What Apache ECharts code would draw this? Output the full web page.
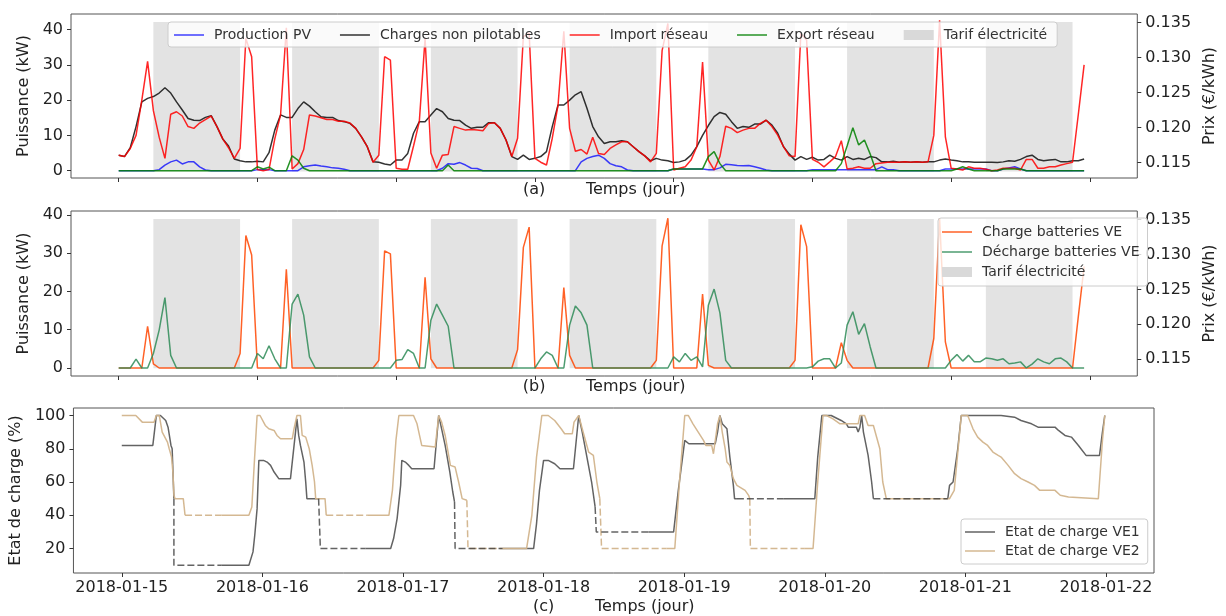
<!DOCTYPE html>
<html><head><meta charset="utf-8">
<script src="https://cdn.jsdelivr.net/npm/echarts@6/dist/echarts.min.js"></script>
<style>html,body{margin:0;padding:0;background:#fff}#chart{width:1226px;height:616px}</style>
</head><body><div id="chart"></div>
<script>
// ---------- DATA (hourly, starting 2018-01-15 00:00) ----------
const dayLabels = ['2018-01-15','2018-01-16','2018-01-17','2018-01-18','2018-01-19','2018-01-20','2018-01-21','2018-01-22'];
const dayTicks = [0,24,48,72,96,120,144,168];
const powerTicks = [0,10,20,30,40];
const priceTicks = [0.115,0.120,0.125,0.130,0.135];
const socTicks = [20,40,60,80,100];

const productionPV = [
 0,0,0,0,0,0,0,0.3,1.6,2.5,3,1.9,2.5,2.5,1.1,0.2,0,0,0,0,0,0,0,0,
 0.3,0.3,0.3,0,0,0,0,0,1.1,1.4,1.6,1.3,1.1,0.8,0.7,0.4,0,0,0,0,0,0,0,0,
 0,0,0,0,0,0,0,0,0.7,2,1.8,2.3,1.6,0.7,0.6,0,0,0,0,0,0,0,0,0,
 0,0,0,0,0,0,0,0,2.5,3.5,4,4.4,3.5,2,1.4,1.1,0.2,0,0,0,0,0,0,0,
 0.5,0.5,0.5,0.5,0.5,0.5,0.3,0.3,0.8,1.8,1.7,1.5,1.4,1.5,1.1,0.7,0.2,0,0,0,0,0,0,0,
 0.3,0.3,0.3,0.3,0.3,0.3,0.3,0.3,0.3,0.3,0.3,0.3,1.1,0.3,0.3,0,0,0,0,0,0,0,0,0.5,
 0.5,0.5,0.5,0.5,0.5,0.5,0.5,0,0,0.5,0.8,1.1,0.5,0,0,0,0,0,0,0,0,0,0,0
];
const chargesNonPilotables = [
 4.4,4,6.5,12.5,19.5,20.5,21,22,23.5,22,19.5,17.2,14.8,14.3,14.2,15.1,15.6,12.5,9,7,3.3,2.8,2.5,2.5,
 2.7,2.5,5.1,11.5,15.8,15.1,15.1,17.6,19.5,18.3,16.7,15.3,15.1,15.1,14.2,13.9,13.4,12,9.6,6.8,2.5,2.4,1.9,1.6,
 3,3,4.9,10.6,13.9,13.9,15.8,17.6,16.7,14.8,14.3,14.2,12.9,12,12.3,12.3,13.6,13.6,12,8.7,4,3.2,4.4,3.2,
 3.5,4,5.4,12.5,18.6,18.6,20,21.5,22.4,17.7,12.5,9.6,7.7,8.2,8.2,8.5,8.2,6.8,5.4,4.2,2.8,3.5,3,2.8,
 2.3,2.5,3,4.4,6.8,10,12.8,15.3,16.5,16,13.9,12,12.5,12.3,13.2,13.2,14.3,12.9,10.6,6.8,4.7,3,4,3.2,
 3.8,3,3.2,4.4,3.5,3,4,3.2,3.5,3.2,4,3.7,2.5,2.5,2.7,2.4,2.5,2.4,2.5,2.4,2.5,2.5,3,3.3,
 3,2.8,2.5,2.5,2.4,2.4,2.4,2.4,2.3,2.5,2.8,2.7,3.2,4,4.4,3.2,2.8,3,3.2,2.5,2.5,2.8,2.8,3.3
];
const importReseau = [
 4.4,4,6.3,10,20,31,17,9.5,3.5,16,16.7,15.5,12.5,12,13.5,14.5,15.5,12.5,9,6.5,3.5,6.3,37.5,32.3,
 0.3,0,0.3,9,15.8,40.5,0.5,2,6,15.8,15.5,15,14.5,14.5,14,14,13.5,12,9.6,6.8,2.4,4.4,32.3,31.3,
 0.7,0.4,0.4,7,13.9,37.5,5,0.7,4.4,4.6,12.5,12,11.5,11.7,11.5,11.3,13.4,13.6,12,8.7,4,9.2,38,39,
 3.5,2.4,1.6,9.2,18.6,39.5,12,5.5,6,4.7,9.5,4.9,4.6,6.3,7.3,8.2,8.2,6.8,5.4,4.2,2.5,4.9,34,41.7,
 0.2,0.7,1.1,3,6.8,30.8,3,0.2,4,12.6,12,10.8,11.5,12,12,13.4,14.3,12.5,10.1,6.8,4.2,4,38.9,37,
 3.2,2.4,1.1,2.5,4,8.5,0.5,0.7,1.1,0.7,0.7,2,2.2,2.4,2.4,2.4,2.5,2.4,2.5,2.4,2.5,10,42.6,9.6,
 0.7,0.5,0.2,1.1,0.7,0.7,0.4,0,0.2,0.7,0.7,0.7,0.2,3.2,3.2,0.7,0.7,1.1,1.1,1.6,2,2.4,16,30
];
const exportReseau = [
 0,0,0,0,0,0,0,0,0,0,0,0,0,0,0,0,0,0,0,0,0,0,0,0,
 1.1,0.5,1,0,0,0,4.2,3,0.7,0,0,0,0,0,0,0,0,0,0,0,0,0,0,0,
 0,0,0,0,0,0,0,0,0,1.6,0,0,0,0,0,0,0,0,0,0,0,0,0,0,
 0,0,0,0,0,0,0,0,0,0,0,0,0,0,0,0,0,0,0,0,0,0,0,0,
 0.5,0.5,0.5,0.5,0.5,0.5,4,5.4,2,0,0,0,0,0,0,0,0,0,0,0,0,0,0,0,
 0,0,0,0,0,2,7,12.2,7.3,8.7,4.7,0,0,0,0,0,0,0,0,0,0,0,0,0,
 0,0.5,1.1,0.5,0,0,0,0,0,0.5,0.5,0.5,0.5,0,0,0,0,0,0,0,0,0,0,0
];
const chargeVE = [
 0,0,0,0,0,10.9,1.1,0,0,0,0,0,0,0,0,0,0,0,0,0,0,3.8,34.6,29.5,
 0,0,0,0,0,25.8,0,0,0,0,0,0,0,0,0,0,0,0,0,0,0,2,30.6,29.8,
 0,0,0,0,0,23.7,2.4,0,0,0,0,0,0,0,0,0,0,0,0,0,0,4.8,31.5,36.8,
 0,0,0,0,0,21,3.3,0,0,0,0,0,0,0,0,0,0,0,0,0,0,2,31.9,39.1,
 0,0,0,0,0,19.3,0.7,0,0,0,0,0,0,0,0,0,0,0,0,0,0,2,37.4,31.7,
 0,0,0,0,0,6.6,2,0,0,0,0,0,0,0,0,0,0,0,0,0,0,7.7,39.1,6.8,
 0,0,0,0,0,0,0,0,0,0,0,0,0,0,0,0,0,0,0,0,0,0,13.5,26.5
];
const dechargeVE = [
 0,0,0,2.3,0,0,3.8,9.9,18.4,3.3,0,0,0,0,0,0,0,0,0,0,0,0,0,0,
 3.8,2.4,5.8,2.4,0,0,16.7,19.3,13.8,2.9,0,0,0,0,0,0,0,0,0,0,0,0,0,0,
 2,2.2,4.8,3.8,0,0,12.5,16.7,13.8,10.9,0,0,0,0,0,0,0,0,0,0,0,0,0,0,
 0,2.4,4.2,3.3,0,0,11.2,16.2,14.4,11.2,0,0,0,0,0,0,0,0,0,0,0,0,0,0,
 2.9,1.6,3.8,2,2.9,0.3,16.4,20.6,14.4,2,0,0,0,0,0,0,0,0,0,0,0,0,0,0,
 0.3,1.8,2.4,2.4,0,1.3,11.2,14.7,8.8,11.6,5.5,0,0,0,0,0,0,0,0,0,0,0,0,0,
 2,3.5,1.8,3.3,1.6,1.6,2.6,2.4,2,2.4,1.1,1.3,1.6,0,1,2.4,1.6,1.1,2.4,2.6,1.6,0,0,0
];
const priceLow = 0.1137;
const tarif = [
 0.1137,0.1137,0.1137,0.1137,0.1137,0.1137,0.1351,0.1351,0.1351,0.1351,0.1351,0.1351,0.1351,0.1351,0.1351,0.1351,0.1351,0.1351,0.1351,0.1351,0.1351,0.1137,0.1137,0.1137,
 0.1137,0.1137,0.1137,0.1137,0.1137,0.1137,0.1351,0.1351,0.1351,0.1351,0.1351,0.1351,0.1351,0.1351,0.1351,0.1351,0.1351,0.1351,0.1351,0.1351,0.1351,0.1137,0.1137,0.1137,
 0.1137,0.1137,0.1137,0.1137,0.1137,0.1137,0.1351,0.1351,0.1351,0.1351,0.1351,0.1351,0.1351,0.1351,0.1351,0.1351,0.1351,0.1351,0.1351,0.1351,0.1351,0.1137,0.1137,0.1137,
 0.1137,0.1137,0.1137,0.1137,0.1137,0.1137,0.1351,0.1351,0.1351,0.1351,0.1351,0.1351,0.1351,0.1351,0.1351,0.1351,0.1351,0.1351,0.1351,0.1351,0.1351,0.1137,0.1137,0.1137,
 0.1137,0.1137,0.1137,0.1137,0.1137,0.1137,0.1351,0.1351,0.1351,0.1351,0.1351,0.1351,0.1351,0.1351,0.1351,0.1351,0.1351,0.1351,0.1351,0.1351,0.1351,0.1137,0.1137,0.1137,
 0.1137,0.1137,0.1137,0.1137,0.1137,0.1137,0.1351,0.1351,0.1351,0.1351,0.1351,0.1351,0.1351,0.1351,0.1351,0.1351,0.1351,0.1351,0.1351,0.1351,0.1351,0.1137,0.1137,0.1137,
 0.1137,0.1137,0.1137,0.1137,0.1137,0.1137,0.1351,0.1351,0.1351,0.1351,0.1351,0.1351,0.1351,0.1351,0.1351,0.1351,0.1351,0.1351,0.1351,0.1351,0.1351,0.1137,0.1137,0.1137
];
// State of charge: [hour, %] breakpoints; solid = connected, dashed = away
const socVE1Solid = [
 [[0,82],[5.3,82],[5.9,100],[6.6,100],[7.5,97],[7.9,93],[8.4,82],[8.6,80],[8.9,50]],
 [[17,10],[21.7,10],[22.4,18],[22.7,28],[23.1,44],[23.4,73],[24.2,73],[24.8,72],[25.4,70],[26,66],[26.8,62],[28.8,62],[29.9,98],[30.2,88],[30.5,82],[31.1,72],[31.4,60],[31.6,50],[33.6,50]],
 [[41.6,20],[45.9,20],[46.4,26],[47,38],[47.6,58],[47.8,73],[48.4,72],[49,70],[49.5,68],[53.3,68],[54.1,100],[54.6,92],[55.2,82],[56,66],[56.5,54],[56.8,48]],
 [[65,20],[70.3,20],[70.8,35],[71.3,55],[72,73],[72.8,73],[73.9,71],[74.8,68],[77.1,68],[78,100],[78.6,90],[79.4,75],[80.2,60],[80.8,45]],
 [[89.9,30],[94.2,30],[95,55],[96.1,85],[96.8,83],[101.3,83],[101.7,90],[102.1,100],[102.5,95],[103.3,92],[103.8,75],[104.4,58],[104.6,50],[105,50]],
 [[113,50],[118.3,50],[118.8,75],[119.5,100],[121.1,100],[122.8,97],[123.7,95],[124,93],[125.4,93],[125.7,90],[126,93],[126.3,100],[126.6,90],[127.4,76],[128,60],[128.3,50]],
 [[141,50],[141.3,58],[141.9,60],[142.7,80],[143.3,100],[150.1,100],[152.4,99],[153.5,97],[155.3,95],[156.4,93],[159.3,93],[159.9,91],[161,88],[162.1,87],[163.3,82],[164.6,76],[166.9,76],[167.4,90],[167.8,100]]
];
const socVE1Away = [
 [[8.9,50],[8.9,10],[17,10]],
 [[33.6,50],[33.9,20],[41.6,20]],
 [[56.8,48],[56.9,20],[65,20]],
 [[80.8,45],[81,30],[89.9,30]],
 [[105,50],[113,50]],
 [[128.3,50],[141,50]]
];
const socVE2Solid = [
 [[0,100],[2.4,100],[3.5,96],[5.5,96],[5.9,100],[6.4,100],[6.9,90],[7.8,84],[8.1,80],[8.5,75],[8.75,65],[8.9,52],[9.1,50],[10.5,50],[10.8,40]],
 [[17,40],[21.7,40],[22.2,45],[22.6,70],[23.1,100],[23.6,100],[24.5,94],[25.1,92],[26,91],[26.5,88],[27.1,86],[29.1,86],[29.4,92],[29.9,100],[30.5,100],[30.8,88],[31.4,87],[32,80],[32.5,70],[32.9,60],[33.1,50],[34.7,50],[34.9,40]],
 [[42,40],[45.6,40],[46.2,55],[46.8,85],[47.3,100],[49.8,100],[50.4,95],[51.2,82],[53.5,81],[54.1,100],[54.6,96],[55.2,88],[56.1,70],[56.9,69],[57.5,60],[58.1,50],[58.9,49]],
 [[64.5,20],[69.1,20],[70,40],[70.8,75],[71.7,100],[72.8,100],[73.9,97],[75,92],[75.6,89],[76.9,89],[77.2,96],[78,100],[78.6,92],[79.7,78],[80.5,76],[81.1,60],[81.6,50]],
 [[93,20],[94.4,20],[95.2,60],[96.1,100],[96.7,100],[97.5,95],[98.4,90],[99.3,85],[99.7,82],[100.7,82],[101,77],[101.3,77],[101.7,95],[102.1,100],[102.5,90],[103,80],[103.3,72],[103.8,70],[104.4,62],[105,58],[106.4,55],[107,52],[107.2,50]],
 [[116.6,20],[118,20],[118.8,60],[119.7,100],[120.3,100],[121.4,98],[122.6,95],[125.7,95],[126,100],[126.8,100],[127.4,94],[128.3,94],[129.4,80],[129.9,60],[130.5,50],[141.3,50],[142.1,55],[143.3,100],[144.4,100],[145.3,92],[146.1,87],[147,84],[147.8,82],[148.7,78],[149.6,76],[150.1,75],[151.3,70],[152.4,65],[153.5,62],[154.7,60],[155.8,58],[156.7,55],[159.3,55],[160.2,52],[161.6,51],[166.7,50],[167.4,85],[167.8,100]]
];
const socVE2Away = [
 [[10.8,40],[17,40]],
 [[34.9,40],[42,40]],
 [[58.9,49],[59.1,20],[64.5,20]],
 [[81.6,50],[81.9,20],[93,20]],
 [[107.2,50],[107.3,20],[116.6,20]]
];

// ---------- CHART ----------
const FONT = 'DejaVu Sans';
const TXT = '#222';
const hourly = arr => arr.map((v, i) => [i, v]);
const X_MIN = -8.25, X_MAX = 176.2;
const GRIDS = [
  {left: 71, top: 14, width: 1083, height: 164},
  {left: 71, top: 211, width: 1083, height: 165},
  {left: 71, top: 408, width: 1083, height: 165}
];

function xAx(idx, showLabels, name, nameGap) {
  return {
    type: 'value', gridIndex: idx, min: X_MIN, max: X_MAX,
    axisLine: {show: false, onZero: false}, splitLine: {show: false},
    axisTick: {show: true, length: 4, lineStyle: {color: '#333'}, customValues: dayTicks},
    axisLabel: {show: showLabels, customValues: dayTicks, fontFamily: FONT, fontSize: 16, color: TXT, margin: 7,
      formatter: v => dayLabels[Math.round(v / 24)]},
    name: name, nameLocation: 'middle', nameGap: nameGap,
    nameTextStyle: {fontFamily: FONT, fontSize: 16, color: TXT}
  };
}
function yAx(idx, pos, min, max, ticks, name, nameGap, fmt) {
  return {
    type: 'value', gridIndex: idx, position: pos, min: min, max: max,
    axisLine: {show: false, onZero: false}, splitLine: {show: false},
    axisTick: {show: true, length: 4, lineStyle: {color: '#333'}, customValues: ticks},
    axisLabel: {customValues: ticks, fontFamily: FONT, fontSize: 16, color: TXT, margin: 8, formatter: fmt},
    name: name, nameLocation: 'middle', nameRotate: 90, nameGap: nameGap,
    nameTextStyle: {fontFamily: FONT, fontSize: 16, color: TXT}
  };
}
function lineS(name, data, color, xi, yi, extra) {
  return Object.assign({
    type: 'line', name: name, data: data, xAxisIndex: xi, yAxisIndex: yi,
    symbol: 'none', silent: true, z: 3, animation: false,
    lineStyle: {color: color, width: 1.5}, itemStyle: {color: color}
  }, extra || {});
}
function tarifS(xi, yi) {
  return {
    type: 'line', name: 'Tarif électricité', data: hourly(tarif), xAxisIndex: xi, yAxisIndex: yi,
    step: 'end', symbol: 'none', silent: true, z: 1, animation: false,
    lineStyle: {width: 0, opacity: 0, color: '#d9d9d9'}, itemStyle: {color: '#d9d9d9'},
    areaStyle: {color: '#e3e3e3', opacity: 1, origin: priceLow}
  };
}
const LINE_ICON = 'path://M0,0H60V3H0Z';
const legendBase = {
  backgroundColor: 'rgba(255,255,255,0.8)', borderColor: '#cccccc', borderWidth: 1, borderRadius: 3,
  itemWidth: 30, itemHeight: 10, symbolKeepAspect: true,
  textStyle: {fontFamily: FONT, fontSize: 14, color: '#333', padding: [0, 0, 0, 5]},
  selectedMode: false
};
const lineItem = n => ({name: n, icon: LINE_ICON});
const tarifLegend = {name: 'Tarif électricité', icon: 'rect', itemStyle: {color: '#d9d9d9'}};

const series = [
  tarifS(0, 1),
  lineS('Production PV', hourly(productionPV), 'rgba(0,0,255,0.75)', 0, 0),
  lineS('Charges non pilotables', hourly(chargesNonPilotables), 'rgba(0,0,0,0.8)', 0, 0),
  lineS('Import réseau', hourly(importReseau), 'rgba(255,0,0,0.85)', 0, 0),
  lineS('Export réseau', hourly(exportReseau), 'rgba(0,128,0,0.85)', 0, 0),
  tarifS(1, 3),
  lineS('Charge batteries VE', hourly(chargeVE), 'rgba(255,69,0,0.85)', 1, 2),
  lineS('Décharge batteries VE', hourly(dechargeVE), 'rgba(46,139,87,0.85)', 1, 2)
];
const C1 = 'rgba(60,60,60,0.8)', C2 = 'rgba(210,180,140,0.95)';
socVE1Solid.forEach(seg => series.push(lineS('Etat de charge VE1', seg, C1, 2, 4, {z: 3})));
socVE2Solid.forEach(seg => series.push(lineS('Etat de charge VE2', seg, C2, 2, 4, {z: 4})));
socVE2Away.forEach(seg => series.push(lineS('VE2 absent', seg, C2, 2, 4, {z: 4, lineStyle: {color: C2, width: 1.5, type: [7, 3]}})));
socVE1Away.forEach(seg => series.push(lineS('VE1 absent', seg, C1, 2, 4, {z: 5, lineStyle: {color: C1, width: 1.5, type: [7, 3]}})));

const fmtPrice = v => v.toFixed(3);
const chart = echarts.init(document.getElementById('chart'), null, {renderer: 'canvas'});
chart.setOption({
  animation: false,
  backgroundColor: '#fff',
  grid: GRIDS.map(g => Object.assign({show: true, borderColor: '#555', borderWidth: 1, backgroundColor: 'transparent'}, g)),
  xAxis: [
    xAx(0, false, '(a)        Temps (jour)', 4),
    xAx(1, false, '(b)        Temps (jour)', 3),
    xAx(2, true, '(c)        Temps (jour)', 26)
  ],
  yAxis: [
    yAx(0, 'left', -2.07, 44.4, powerTicks, 'Puissance (kW)', 33),
    yAx(0, 'right', 0.11276, 0.13624, priceTicks, 'Prix (€/kWh)', 58, fmtPrice),
    yAx(1, 'left', -2.09, 41.0, powerTicks, 'Puissance (kW)', 33),
    yAx(1, 'right', 0.1126, 0.13623, priceTicks, 'Prix (€/kWh)', 58, fmtPrice),
    yAx(2, 'left', 5.3, 104.5, socTicks, 'Etat de charge (%)', 45)
  ],
  legend: [
    Object.assign({}, legendBase, {orient: 'horizontal', left: 168, top: 22, itemGap: 29, padding: [6, 10, 5, 6],
      data: [lineItem('Production PV'), lineItem('Charges non pilotables'), lineItem('Import réseau'), lineItem('Export réseau'), tarifLegend]}),
    Object.assign({}, legendBase, {orient: 'vertical', left: 938, top: 218, itemGap: 6, padding: [7, 8, 7, 4],
      data: [lineItem('Charge batteries VE'), lineItem('Décharge batteries VE'), tarifLegend]}),
    Object.assign({}, legendBase, {orient: 'vertical', left: 961, top: 519, itemGap: 5, padding: [6, 8, 6, 4],
      data: [lineItem('Etat de charge VE1'), lineItem('Etat de charge VE2')]})
  ],
  series: series
});
</script>
</body></html>
